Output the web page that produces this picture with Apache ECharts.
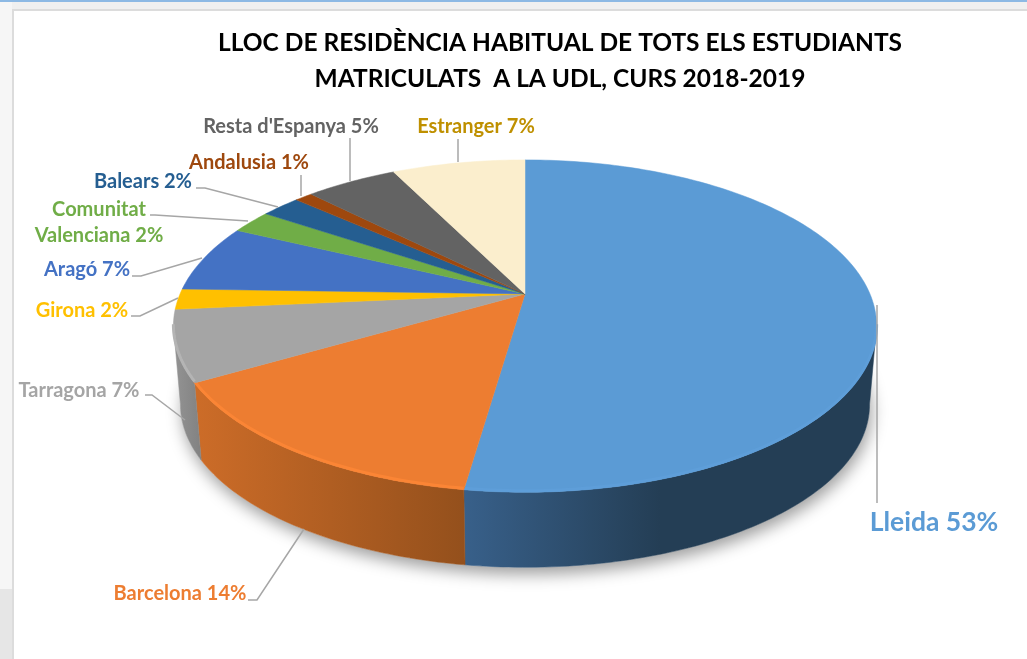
<!DOCTYPE html>
<html>
<head>
<meta charset="utf-8">
<style>
html, body { margin: 0; padding: 0; background: #fff; }
#main { width: 1027px; height: 659px; }
</style>
<script src="https://cdn.jsdelivr.net/npm/echarts@6/dist/echarts.min.js"></script>
</head>
<body>
<div id="main"></div>
<script>
// chart data, slice sizes estimated from the wedges (the labels print them rounded)
var categories = ['Lleida', 'Barcelona', 'Tarragona', 'Girona', 'Aragó', 'Comunitat\nValenciana', 'Balears', 'Andalusia', "Resta d'Espanya", 'Estranger'];
var shares = [52.5, 14.4, 6.9, 2.0, 6.6, 2.3, 2.2, 1.0, 5.1, 7.4];

var colors = ['#5b9bd5', '#ed7d31', '#a5a5a5', '#ffc000', '#4472c4', '#70ad47', '#255e91', '#9e480e', '#636363', '#fbeecd'];
var labelColors = ['#5b9bd5', '#ed7d31', '#a5a5a5', '#ffc000', '#4472c4', '#70ad47', '#255e91', '#9e480e', '#636363', '#bf9000'];
var rimColors = { 0: '#5e9ed9', 1: '#fb8535', 2: '#b4b4b4' };
var wallStops = {
    0: [464, '#38608a', 660, '#243e55'],
    1: [197, '#cc6c28', 464, '#94501c'],
    2: [176, '#929292', 205, '#7f7f7f']
};

// label layout: centre x, centre y, font size
var labelPos = [
    [934, 522, 26.5], [180, 594, 20], [79, 391, 20], [82, 311, 20], [87, 270, 20],
    [99, 223, 20], [143, 182, 20], [249, 163, 20], [291, 127, 20], [476, 127, 20]
];
var leaderLines = [
    [[877, 305], [877, 503]],
    [[248, 600], [257, 600], [304, 529]],
    [[145, 395], [152, 395], [185, 420]],
    [[131, 316], [140, 316], [178, 298]],
    [[132, 276], [141, 276], [202, 258]],
    [[150, 215], [155, 215], [248, 221]],
    [[196, 188], [205, 188], [278, 207]],
    [[301, 175], [301, 196]],
    [[350, 138], [350, 181]],
    [[458, 139], [458, 162]]
];

// pie geometry, a circle seen in perspective
var cx = 525, cy = 294, A = 345, B = 160, K = 0.193;
var DEPTH = 79, BOTTOM_SCALE = 0.98;
var WALL_FROM = 101, WALL_TO = 259;
var FONT = 'Lato, "Open Sans", sans-serif';

var total = shares.reduce(function (a, b) { return a + b; }, 0);
var indices = categories.map(function (c, i) { return i; });

function sliceRange(i) {
    var before = 0;
    for (var j = 0; j < i; j++) {
        before += shares[j];
    }
    return [before / total * 360, (before + shares[i]) / total * 360];
}

function project(deg, bottom) {
    var t = deg * Math.PI / 180;
    var w = 1 + K * Math.cos(t);
    var x = A * Math.sin(t) / w, y = -B * Math.cos(t) / w;
    if (bottom) {
        return [cx + x * BOTTOM_SCALE, cy + y * BOTTOM_SCALE + DEPTH];
    }
    return [cx + x, cy + y];
}

function arc(from, to, bottom) {
    var pts = [];
    var n = Math.max(2, Math.ceil(Math.abs(to - from)));
    for (var i = 0; i <= n; i++) {
        pts.push(project(from + (to - from) * i / n, bottom));
    }
    return pts;
}

function wallRange(i) {
    var r = sliceRange(i);
    var from = Math.max(r[0], WALL_FROM), to = Math.min(r[1], WALL_TO);
    return from < to ? [from, to] : null;
}

function renderWall(params, api) {
    var i = params.dataIndex;
    var children = [];
    if (i === 0) {
        // soft shadow below the whole disc
        children.push({
            type: 'polygon',
            shape: { points: arc(0, 360, true) },
            style: { fill: '#fff', shadowBlur: 16, shadowColor: 'rgba(0,0,0,0.38)', shadowOffsetY: 7, shadowOffsetX: 2 }
        });
    }
    var r = wallRange(i);
    if (r && wallStops[i]) {
        var s = wallStops[i];
        var fill = {
            type: 'linear', global: true, x: s[0], y: 0, x2: s[2], y2: 0,
            colorStops: [{ offset: 0, color: s[1] }, { offset: 1, color: s[3] }]
        };
        var pts = arc(r[0], r[1], false).concat(arc(r[1], r[0], true));
        children.push({ type: 'polygon', shape: { points: pts }, style: { fill: fill, stroke: fill, lineWidth: 0.5 } });
    }
    return { type: 'group', children: children };
}

function renderTop(params, api) {
    var i = params.dataIndex;
    var r = sliceRange(i);
    var children = [{
        type: 'polygon',
        shape: { points: [[cx, cy]].concat(arc(r[0], r[1], false)) },
        style: { fill: colors[i], stroke: colors[i], lineWidth: 0.5 }
    }];
    var w = wallRange(i);
    if (w && rimColors[i]) {
        var rim = arc(w[0], w[1], false).map(function (p) { return [p[0], p[1] - 1.5]; });
        children.push({
            type: 'polyline',
            shape: { points: rim },
            style: { fill: 'none', stroke: rimColors[i], lineWidth: 3 }
        });
    }
    return { type: 'group', children: children };
}

function renderLabel(params, api) {
    var i = params.dataIndex;
    var p = labelPos[i];
    return {
        type: 'group',
        children: [{
            type: 'polyline',
            shape: { points: leaderLines[i] },
            style: { fill: 'none', stroke: '#a6a6a6', lineWidth: 1.5 }
        }, {
            type: 'text',
            style: {
                text: categories[i] + ' ' + Math.round(shares[i]) + '%',
                x: p[0], y: p[1],
                fill: labelColors[i],
                font: 'bold ' + p[2] + 'px ' + FONT,
                lineHeight: 26,
                align: 'center', verticalAlign: 'middle'
            }
        }]
    };
}

var chart = echarts.init(document.getElementById('main'));
chart.setOption({
    animation: false,
    backgroundColor: '#fff',
    title: {
        text: 'LLOC DE RESIDÈNCIA HABITUAL DE TOTS ELS ESTUDIANTS\nMATRICULATS  A LA UDL, CURS 2018-2019',
        left: 555, top: 20, textAlign: 'center',
        textStyle: { fontFamily: FONT, fontWeight: 'bold', fontSize: 24.5, lineHeight: 36, color: '#000' }
    },
    graphic: [
        { type: 'rect', shape: { x: 0, y: 0, width: 1027, height: 9 }, style: { fill: '#f0f0f0' }, silent: true },
        { type: 'rect', shape: { x: 0, y: 0, width: 1027, height: 2 }, style: { fill: '#8db9e4' }, silent: true },
        { type: 'rect', shape: { x: 0, y: 2, width: 12, height: 657 }, style: { fill: '#f6f6f6' }, silent: true },
        { type: 'rect', shape: { x: 0, y: 589, width: 12, height: 70 }, style: { fill: '#e6e6e6' }, silent: true },
        { type: 'rect', shape: { x: 12, y: 9, width: 1015, height: 2 }, style: { fill: '#dcdcdc' }, silent: true },
        { type: 'rect', shape: { x: 12, y: 9, width: 2, height: 650 }, style: { fill: '#dcdcdc' }, silent: true }
    ],
    series: [
        { type: 'custom', coordinateSystem: 'none', silent: true, z: 2, data: indices, renderItem: renderWall },
        { type: 'custom', coordinateSystem: 'none', silent: true, z: 3, data: indices, renderItem: renderTop },
        { type: 'custom', coordinateSystem: 'none', silent: true, z: 4, data: indices, renderItem: renderLabel }
    ]
});
</script>
</body>
</html>
